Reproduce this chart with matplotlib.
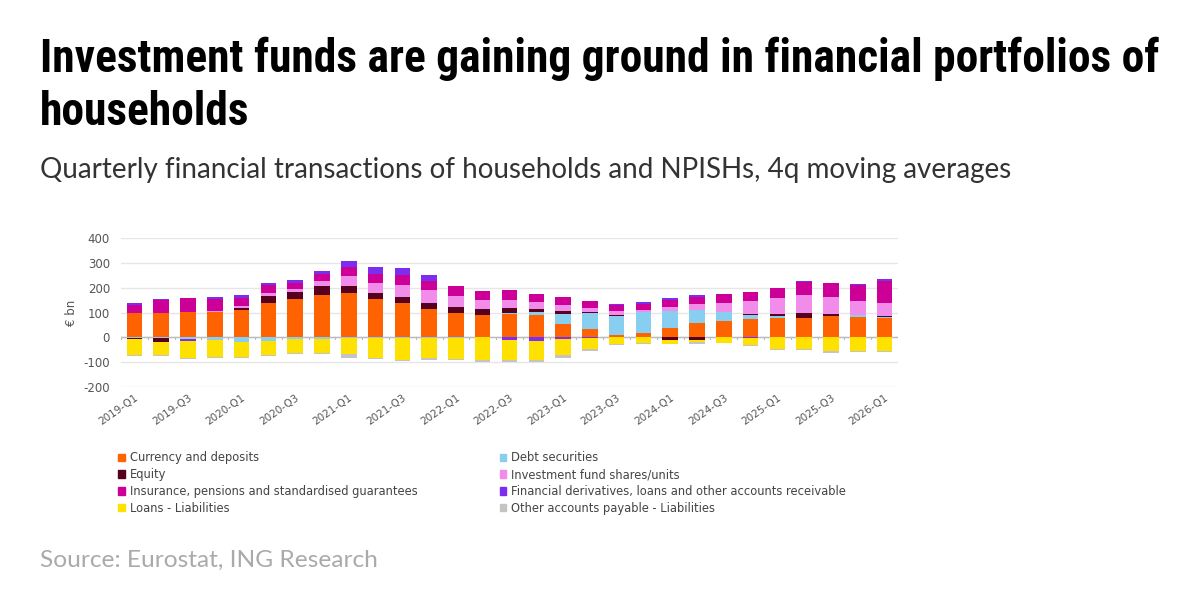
import numpy as np
import matplotlib
matplotlib.use("Agg")
import matplotlib.pyplot as plt
from matplotlib.patches import Patch
from matplotlib import font_manager as fm

plt.rcParams["axes.unicode_minus"] = False

# -----------------------------
# Data (EUR bn, 4q moving averages)
# -----------------------------
quarters = [f"{y}-Q{q}" for y in range(2019, 2027) for q in range(1, 5)][:29]

currency = [97, 97, 103, 103, 110, 140, 155, 170, 178, 155, 140, 115, 100, 90, 95,
            89, 52, 32, 8, 19, 39, 58, 66, 75, 78, 78, 86, 82, 78]
debt = [-2, -3, -5, -10, -20, -15, -5, -8, -3, -2, -2, -3, -2, 0, 3,
        13, 43, 67, 77, 83, 66, 54, 36, 14, 7, 0, 0, 7, 3]
equity = [-6, -15, -3, 0, 10, 25, 27, 37, 30, 23, 22, 22, 22, 24, 20,
          11, 11, 2, 6, 0, -12, -10, 0, 6, 10, 18, 7, 0, 5]
inv_funds = [0, 0, 0, 5, 8, 13, 13, 18, 37, 40, 48, 55, 46, 35, 34,
             29, 23, 17, 14, 10, 17, 24, 36, 52, 65, 73, 70, 58, 53]
insurance = [33, 53, 54, 47, 32, 32, 25, 30, 40, 37, 42, 36, 40, 38, 38,
             34, 34, 29, 24, 24, 27, 27, 35, 36, 40, 52, 55, 63, 87]
fin_deriv = [10, 5, -8, 7, 12, 8, 12, 13, 23, 27, 26, 24, 0, 0, -10,
             -15, -8, -2, 4, 6, 8, 9, 2, -3, 0, 4, 0, 6, 8]
loans_liab = [-62, -54, -66, -68, -60, -55, -60, -57, -65, -83, -88, -82, -86, -92, -83,
              -75, -62, -46, -26, -23, -13, -10, -21, -29, -48, -48, -56, -56, -56]
other_liab = [-4, -5, -5, -5, -5, -4, -3, -4, -15, -3, -7, -5, -3, -6, -8,
              -9, -12, -7, -6, -5, -3, -5, -3, -3, -3, -4, -6, -3, -4]

labels = ["Currency and deposits", "Debt securities", "Equity",
          "Investment fund shares/units",
          "Insurance, pensions and standardised guarantees",
          "Financial derivatives, loans and other accounts receivable",
          "Loans - Liabilities", "Other accounts payable - Liabilities"]
colors = ["#FF6200", "#87CEF0", "#55001E", "#F28CEB", "#CC0096", "#7B2DF0",
          "#FFE100", "#C4C4C4"]
series = [currency, debt, equity, inv_funds, insurance, fin_deriv, loans_liab, other_liab]

# narrow bold font for the title, if one is installed
title_family = "DejaVu Sans"
for fam in ["Liberation Sans Narrow", "Roboto Condensed", "DejaVu Sans Condensed",
            "Open Sans Condensed", "Noto Sans Condensed"]:
    try:
        fm.findfont(fm.FontProperties(family=fam, weight="bold"), fallback_to_default=False)
        title_family = fam
        break
    except ValueError:
        pass

# -----------------------------
# Figure
# -----------------------------
fig = plt.figure(figsize=(12, 6), dpi=100)
fig.patch.set_facecolor("white")


def fit_width(t, target_px):
    # scale font size so the text spans target_px
    fig.canvas.draw()
    w = t.get_window_extent().width
    t.set_fontsize(t.get_fontsize() * target_px / w)


t1 = fig.text(40 / 1200, 1 - 72 / 600, "Investment funds are gaining ground in financial portfolios of",
              fontsize=29, fontweight="heavy", fontstretch="condensed",
              family=[title_family, "DejaVu Sans"], color="black")
t2 = fig.text(40 / 1200, 1 - 125 / 600, "households",
              fontsize=29, fontweight="heavy", fontstretch="condensed",
              family=[title_family, "DejaVu Sans"], color="black")
fit_width(t1, 1118)
t2.set_fontsize(t1.get_fontsize())
t3 = fig.text(40 / 1200, 1 - 178 / 600,
              "Quarterly financial transactions of households and NPISHs, 4q moving averages",
              fontsize=16, family=["Lato", "DejaVu Sans"], color="#333333")
fit_width(t3, 975)
t4 = fig.text(40 / 1200, 1 - 567 / 600, "Source: Eurostat, ING Research",
              fontsize=16, family=["Lato", "DejaVu Sans"], color="#AAAAAA")
fit_width(t4, 338)

ax = fig.add_axes([121 / 1200, 1 - 387 / 600, (898 - 121) / 1200, (387 - 238) / 600])
x = np.arange(len(quarters))
pos_base = np.zeros(len(x))
neg_base = np.zeros(len(x))
for vals, col in zip(series, colors):
    v = np.array(vals, dtype=float)
    pos = np.where(v > 0, v, 0)
    neg = np.where(v < 0, v, 0)
    ax.bar(x, pos, 0.58, bottom=pos_base, color=col, zorder=3)
    ax.bar(x, neg, 0.58, bottom=neg_base, color=col, zorder=3)
    pos_base += pos
    neg_base += neg

ax.set_xlim(-0.5, len(x) - 0.5)
ax.set_ylim(-200, 400)
ax.set_yticks(range(-200, 401, 100))
ax.tick_params(axis="y", length=0, labelsize=8.5, labelcolor="#555555", pad=8)
ax.grid(axis="y", color="#E6E6E6", linewidth=1, zorder=0)
ax.axhline(0, color="#BBBBBB", linewidth=1, zorder=2)
for xi in np.arange(-0.5, len(x), 1):
    ax.plot([xi, xi], [0, -6], color="#BBBBBB", linewidth=0.8, zorder=2)
for s in ax.spines.values():
    s.set_visible(False)
ax.set_xticks(x[::2])
ax.set_xticklabels(quarters[::2], rotation=35, ha="right", rotation_mode="anchor",
                   fontsize=7.5, color="#555555")
ax.tick_params(axis="x", length=0, pad=4)
ax.set_ylabel("€ bn", fontsize=8.5, color="#555555", labelpad=4)

handles = [Patch(color=c, label=l) for c, l in zip(colors, labels)]
order = [0, 2, 4, 6, 1, 3, 5, 7]
fig.legend([handles[i] for i in order], [labels[i] for i in order], ncol=2,
           loc="upper left", bbox_to_anchor=(108 / 1200, 1 - 441 / 600),
           frameon=False, fontsize=8.3, handlelength=0.6, handleheight=0.6,
           handletextpad=0.4, labelspacing=0.33, columnspacing=7.1,
           labelcolor="#444444")

fig.savefig("out.png", dpi=100)
